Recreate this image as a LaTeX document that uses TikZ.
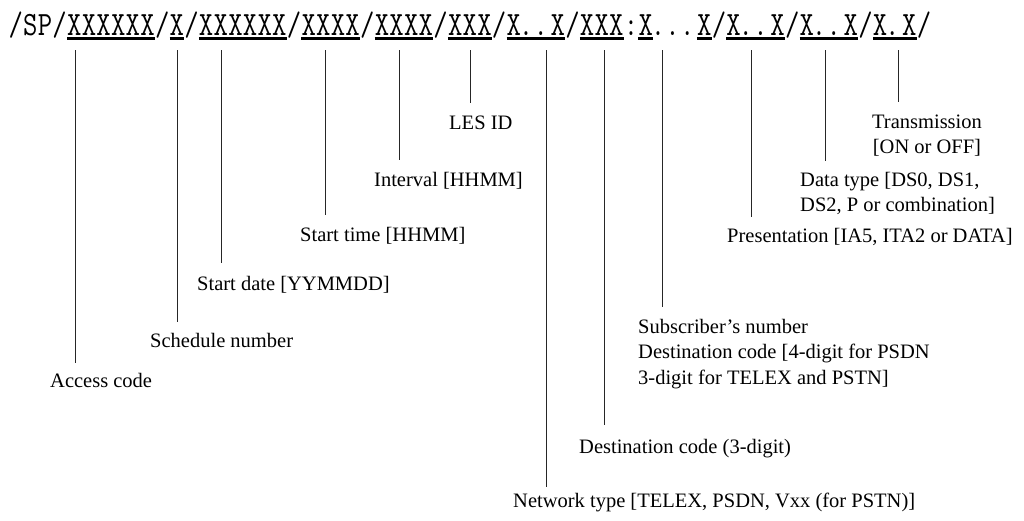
\documentclass[tikz,border=0pt]{standalone}
\usepackage{fontspec}
\setmainfont{Liberation Serif}
\begin{document}
\begin{tikzpicture}[x=1pt,y=-1pt,
  lbl/.style={inner sep=0pt,anchor=base west,font=\fontsize{20.5}{25.5}\selectfont},
  ch/.style={inner sep=0pt,anchor=base,yscale=1.22,transform shape,font=\ttfamily\fontsize{27.9}{30}\selectfont},
  lead/.style={line width=1pt,draw=black!85},
  uline/.style={line width=2.2pt}]
\useasboundingbox (0,0) rectangle (1024,520);
\def\xo{8.4}\def\cw{14.65}
% top string, one character per fixed cell
\foreach [count=\i from 0] \c in {/,S,P,/,X,X,X,X,X,X,/,X,/,X,X,X,X,X,X,/,X,X,X,X,/,X,X,X,X,/,X,X,X,/,X,.,.,X,/,X,X,X,:,X,.,.,.,X,/,X,.,.,X,/,X,.,.,X,/,X,.,X,/}{
  \if.\c
    \node[ch] (c\i) at ({\xo+\i*\cw+5},35) {.};
  \else
    \node[ch] (c\i) at ({\xo+(\i+0.5)*\cw},35) {\c};
  \fi
}
% underlines (index ranges of characters)
\foreach \a/\b in {4/9,11/11,13/18,20/23,25/28,30/32,34/37,39/41,43/43,47/47,49/52,54/57,59/61}
  \draw[uline] ({\xo+\a*\cw},38.5) -- ({\xo+(\b+1)*\cw},38.5);
% labels
\node[lbl] (acc) at (50,387) {Access code};
\node[lbl] (sch) at (150,347) {Schedule number};
\node[lbl] (sdate) at (197,290) {Start date [YYMMDD]};
\node[lbl] (stime) at (300,241) {Start time [HHMM]};
\node[lbl] (intv) at (374,186) {Interval [HHMM]};
\node[lbl] (les) at (449,129) {LES ID};
\node[lbl,anchor=base,align=center] (trans) at (927,153.5) {Transmission\\{[}ON or OFF{]}};
\node[lbl,align=left] (dtype) at (800,211.5) {Data type [DS0, DS1,\\DS2, P or combination]};
\node[lbl] (pres) at (727,242) {Presentation [IA5, ITA2 or DATA]};
\node[lbl,align=left] (subs) at (638,384) {Subscriber’s number\\Destination code [4-digit for PSDN\\3-digit for TELEX and PSTN]};
\node[lbl] (dest) at (579,453) {Destination code (3-digit)};
\node[lbl] (net) at (513,507) {Network type [TELEX, PSDN, Vxx (for PSTN)]};
% leader lines
\foreach \n/\x/\y in {acc/75/363, sch/177.7/322, sdate/221.7/263, stime/325/215,
  intv/399/160, les/470.7/103, net/546.7/487, dest/604/425, subs/662.5/307,
  pres/751.7/217, dtype/825.7/161, trans/898.5/102}{
  \coordinate (\n-top) at (\x,50);
  \coordinate (\n-end) at (\x,\y);
  \draw[lead] (\n-top) -- (\n-end);
}
\end{tikzpicture}
\end{document}
